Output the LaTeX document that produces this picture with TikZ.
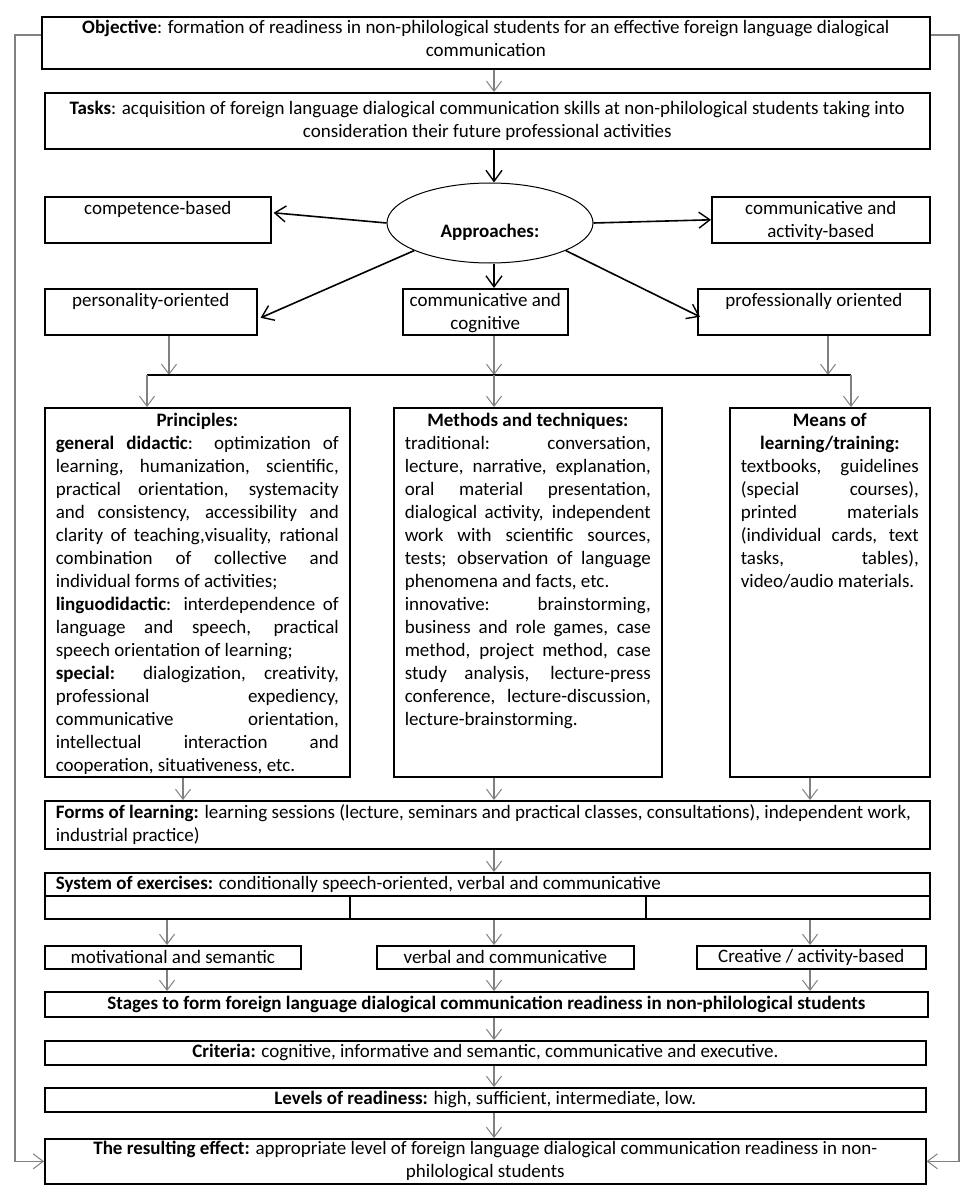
\documentclass[tikz,border=0pt]{standalone}
\usepackage{fontspec}
\setmainfont{Carlito}
\usetikzlibrary{arrows.meta,calc,shapes.geometric}
\definecolor{arrowgray}{RGB}{128,128,128}
\newcommand\Jl[1]{\makebox[\linewidth][s]{#1}\par}
\newcommand\Nl[1]{#1\par}
\newcommand\Ct[1]{\makebox[\linewidth][c]{#1}\par}
\begin{document}
\begin{tikzpicture}[x=1pt,y=-1pt,
  every node/.style={font=\fontsize{19}{23}\selectfont},
  box/.style={draw, line width=1.6pt, inner sep=0pt, anchor=north west},
  padbox/.style={box, inner xsep=11pt},
  thinarr/.style={draw=arrowgray, line width=1.1pt, -{Straight Barb[length=10pt,width=15pt,line width=1pt]}},
  thickarr/.style={draw=black, line width=1.6pt, -{Straight Barb[length=11pt,width=16pt,line width=1.4pt]}},
  fbline/.style={draw=arrowgray, line width=1.6pt, -{Straight Barb[length=10pt,width=15pt,line width=1pt]}},
]
\useasboundingbox (0,0) rectangle (974,1198);
\fill[white] (0,0) rectangle (974,1198);

% coordinates for connector columns
\coordinate (ax) at (494,0);
\coordinate (xL) at (169,0);
\coordinate (xR) at (828,0);
\coordinate (xA) at (183,0);
\coordinate (xC) at (810,0);
\coordinate (xM) at (167,0);
\coordinate (barL) at (147,375);
\coordinate (barR) at (851,375);
\coordinate (fbL) at (15,35);
\coordinate (fbR) at (959,35);

\node[box] (obj) at (41,16) {\parbox[c][52pt][t]{888pt}{\centering\rule{0pt}{17pt}\textbf{Objective}: formation of readiness in non-philological students for an effective foreign language dialogical\\communication}};
\node[box] (tasks) at (44,92) {\parbox[c][56pt][t]{885pt}{\centering\rule{0pt}{22pt}\textbf{Tasks}: acquisition of foreign language dialogical communication skills at non-philological students taking into\\consideration their future professional activities}};

\node[draw, ellipse, line width=1pt, minimum width=206pt, minimum height=80pt, inner sep=0pt] (ell) at (490,223) {};
\node (apt) at (490,232) {\textbf{Approaches:}};

\node[box] (comp) at (44,196) {\parbox[c][46pt][t]{226pt}{\centering\rule{0pt}{18pt}competence-based}};
\node[box] (cact) at (711,196) {\parbox[c][46pt][t]{218pt}{\centering\rule{0pt}{18pt}communicative and\\activity-based}};
\node[box] (pers) at (44,288) {\parbox[c][46pt][t]{212pt}{\centering\rule{0pt}{18pt}personality-oriented}};
\node[box] (ccog) at (402,288) {\parbox[c][46pt][t]{165pt}{\centering\rule{0pt}{18pt}communicative and\\cognitive}};
\node[box] (prof) at (697,288) {\parbox[c][46pt][t]{232pt}{\centering\rule{0pt}{18pt}professionally oriented}};

\node[padbox] (prin) at (44,407) {\parbox[c][369pt][t]{283pt}{%
\Ct{\rule{0pt}{19pt}\textbf{Principles:}}
\Jl{\textbf{general didactic}: optimization of}
\Jl{learning, humanization, scientific,}
\Jl{practical orientation, systemacity}
\Jl{and consistency, accessibility and}
\Jl{clarity of teaching,visuality, rational}
\Jl{combination of collective and}
\Nl{individual forms of activities;}
\Jl{\textbf{linguodidactic}: interdependence of}
\Jl{language and speech, practical}
\Nl{speech orientation of learning;}
\Jl{\textbf{special:} dialogization, creativity,}
\Jl{professional expediency,}
\Jl{communicative orientation,}
\Jl{intellectual interaction and}
\Nl{cooperation, situativeness, etc.}}};

\node[padbox] (meth) at (393,407) {\parbox[c][369pt][t]{246pt}{%
\Ct{\rule{0pt}{19pt}\textbf{Methods and techniques:}}
\Jl{traditional: conversation,}
\Jl{lecture, narrative, explanation,}
\Jl{oral material presentation,}
\Jl{dialogical activity, independent}
\Jl{work with scientific sources,}
\Jl{tests; observation of language}
\Nl{phenomena and facts, etc.}
\Jl{innovative: brainstorming,}
\Jl{business and role games, case}
\Jl{method, project method, case}
\Jl{study analysis, lecture-press}
\Jl{conference, lecture-discussion,}
\Nl{lecture-brainstorming.}}};

\node[padbox] (means) at (729,407) {\parbox[c][369pt][t]{178pt}{%
\Ct{\rule{0pt}{19pt}\textbf{Means of}}
\Ct{\textbf{learning/training:}}
\Jl{textbooks, guidelines}
\Jl{(special courses),}
\Jl{printed materials}
\Jl{(individual cards, text}
\Jl{tasks, tables),}
\Nl{video/audio materials.}}};

\node[padbox] (forms) at (44,800) {\parbox[c][48pt][c]{863pt}{\textbf{Forms of learning:} learning sessions (lecture, seminars and practical classes, consultations), independent work,\\industrial practice)}};

\node[padbox] (sys) at (44,872) {\parbox[c][23pt][c]{863pt}{\textbf{System of exercises:} conditionally speech-oriented, verbal and communicative}};
\node[box, minimum width=305pt, minimum height=23pt] (c1) at (44,895) {};
\node[box, minimum width=296pt, minimum height=23pt] (c2) at (349,895) {};
\node[box, minimum width=284pt, minimum height=23pt] (c3) at (645,895) {};

\node[box, minimum width=256pt, minimum height=23pt] (mot) at (44,945) {motivational and semantic};
\node[box, minimum width=257pt, minimum height=23pt] (verb) at (376,945) {verbal and communicative};
\node[box, minimum width=229pt, minimum height=23pt] (crea) at (696,945) {Creative / activity-based};

\node[box, minimum width=883pt, minimum height=25pt] (stag) at (44,991) {\textbf{Stages to form foreign language dialogical communication readiness in non-philological students}};
\node[box, minimum width=881pt, minimum height=24pt] (crit) at (44,1040) {\textbf{Criteria:} cognitive, informative and semantic, communicative and executive.};
\node[box, minimum width=881pt, minimum height=24pt] (lev) at (44,1087) {\textbf{Levels of readiness:} high, sufficient, intermediate, low.};
\node[box] (res) at (44,1138) {\parbox[c][45pt][c]{881pt}{\centering\textbf{The resulting effect:} appropriate level of foreign language dialogical communication readiness in non-\\philological students}};

% connectors
\draw[thinarr] (obj.south -| ax) -- (tasks.north -| ax);
\draw[thickarr] (tasks.south -| ax) -- (ell.north -| ax);
\draw[thickarr] (ell.180) -- ($(comp.east)+(2,-7)$);
\draw[thickarr] (ell.0) -- (cact.west);
\draw[thickarr] (ell.200) -- ($(pers.east)+(3,6)$);
\draw[thickarr] (ell.south -| ax) -- (ccog.north -| ax);
\draw[thickarr] (ell.340) -- ($(prof.west)+(3,5)$);

\draw[thinarr] (pers.south -| xL) -- (barL -| xL);
\draw[thinarr] (ccog.south -| ax) -- (barL -| ax);
\draw[thinarr] (prof.south -| xR) -- (barL -| xR);
\draw[line width=1.6pt] (barL) -- (barR);
\draw[thinarr] (barL) -- (prin.north -| barL);
\draw[thinarr] (barL -| ax) -- (meth.north -| ax);
\draw[thinarr] (barR) -- (means.north -| barR);

\draw[thinarr] (prin.south -| xA) -- (forms.north -| xA);
\draw[thinarr] (meth.south -| ax) -- (forms.north -| ax);
\draw[thinarr] (means.south -| xC) -- (forms.north -| xC);
\draw[thinarr] (forms.south -| ax) -- (sys.north -| ax);
\draw[thinarr] (c1.south -| xM) -- (mot.north -| xM);
\draw[thinarr] (c2.south -| ax) -- (verb.north -| ax);
\draw[thinarr] (c3.south -| xC) -- (crea.north -| xC);
\draw[thinarr] (mot.south -| xM) -- (stag.north -| xM);
\draw[thinarr] (verb.south -| ax) -- (stag.north -| ax);
\draw[thinarr] (crea.south -| xC) -- (stag.north -| xC);
\draw[thinarr] (stag.south -| ax) -- (crit.north -| ax);
\draw[thinarr] (crit.south -| ax) -- (lev.north -| ax);
\draw[thinarr] (lev.south -| ax) -- (res.north -| ax);

\draw[fbline] (obj.west |- fbL) -- (fbL) |- (res.west);
\draw[fbline] (obj.east |- fbR) -- (fbR) |- (res.east);
\end{tikzpicture}
\end{document}
